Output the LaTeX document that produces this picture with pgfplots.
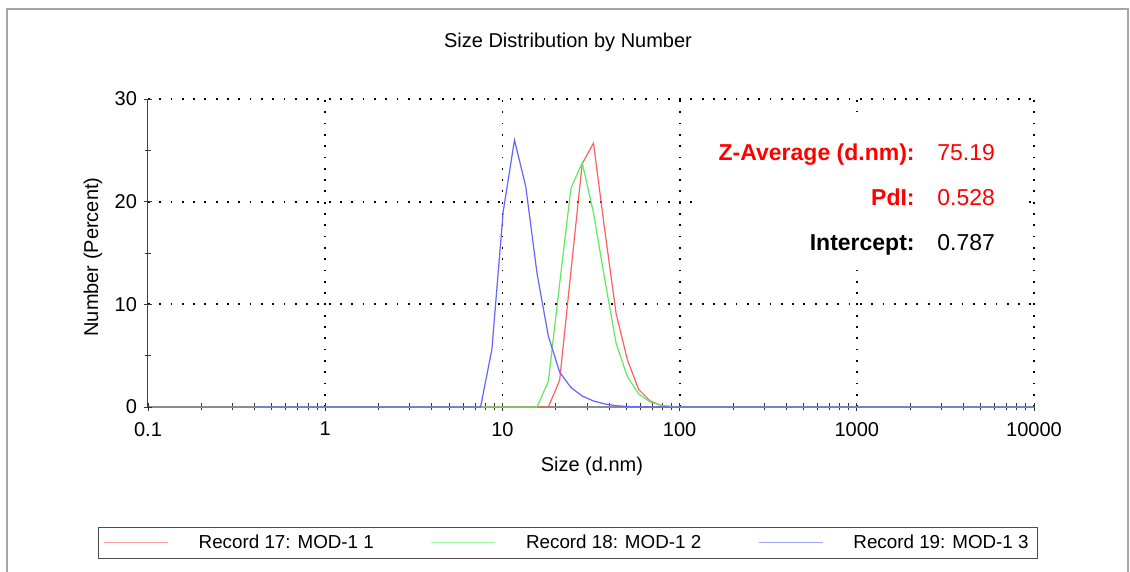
\documentclass[border=0pt]{standalone}
\usepackage{fontspec}
\setmainfont{Liberation Sans}
\usepackage{pgfplots}
\pgfplotsset{compat=1.18}
\usepackage{pgfplotstable}

\definecolor{cred}{RGB}{255,95,95}
\definecolor{cgreen}{RGB}{95,235,95}
\definecolor{cblue}{RGB}{100,100,255}

\pgfplotstableread{
x red green blue
0.4000 0 0 0
0.4632 0 0 0
0.5365 0 0 0
0.6213 0 0 0
0.7195 0 0 0
0.8332 0 0 0
0.9649 0 0 0
1.117 0 0 0
1.294 0 0 0
1.499 0 0 0
1.736 0 0 0
2.010 0 0 0
2.328 0 0 0
2.696 0 0 0
3.122 0 0 0
3.615 0 0 0
4.187 0 0 0
4.849 0 0 0
5.615 0 0 0
6.503 0 0 0
7.531 0 0 0
8.721 0 0 5.6
10.10 0 0 19.0
11.70 0 0 26.0
13.54 0 0 21.5
15.69 0 0 13.0
18.17 0 2.5 6.9
21.04 2.6 12.0 3.4
24.36 13.2 21.3 1.9
28.21 23.7 23.8 1.07
32.67 25.7 18.9 0.58
37.84 17.2 12.4 0.30
43.82 9.1 6.2 0.12
50.75 4.6 2.95 0.05
58.77 1.7 1.27 0
68.06 0.6 0.5 0
78.82 0.15 0.15 0
91.28 0.03 0.03 0
105.7 0 0 0
122.4 0 0 0
141.8 0 0 0
164.2 0 0 0
190.1 0 0 0
220.2 0 0 0
255.0 0 0 0
295.3 0 0 0
342.0 0 0 0
396.1 0 0 0
458.7 0 0 0
531.2 0 0 0
615.1 0 0 0
712.4 0 0 0
825.0 0 0 0
955.4 0 0 0
1106 0 0 0
1281 0 0 0
1484 0 0 0
1718 0 0 0
1990 0 0 0
2305 0 0 0
2669 0 0 0
3091 0 0 0
3580 0 0 0
4145 0 0 0
4801 0 0 0
5560 0 0 0
6439 0 0 0
7456 0 0 0
8635 0 0 0
10000 0 0 0
}\dsd

\begin{document}
\begin{tikzpicture}
\path[use as bounding box, fill=white] (-74pt,-82.5pt) rectangle (491pt,203.5pt);
\draw[black!35, line width=1pt] (-70.5pt,-83pt) -- (-70.5pt,199pt) -- (490pt,199pt) -- (490pt,-83pt);
\begin{axis}[
  at={(0pt,0pt)}, anchor=south west,
  width=443pt, height=154pt, scale only axis,
  xmode=log, xmin=0.1, xmax=10000, ymin=0, ymax=30,
  clip=false,
  axis x line*=bottom, axis y line*=left,
  x axis line style={black!45, line width=1pt},
  y axis line style={black!75, line width=0.5pt},
  xtick={1,10,100,1000,10000},
  xticklabels={1,10,100,1000,10000},
  extra x ticks={0.1}, extra x tick labels={0.1},
  extra x tick style={grid=none},
  minor xtick={0.2,0.3,0.4,0.5,0.6,0.7,0.8,0.9,2,3,4,5,6,7,8,9,20,30,40,50,60,70,80,90,200,300,400,500,600,700,800,900,2000,3000,4000,5000,6000,7000,8000,9000},
  ytick={10,20,30},
  extra y ticks={0}, extra y tick style={grid=none},
  minor ytick={5,15,25},
  tick align=center,
  major tick length=4pt, minor tick length=3.5pt,
  tick style={black!80, line width=0.4pt},
  xmajorgrids, ymajorgrids,
  major grid style={black, line width=0.9pt, dash pattern=on 0.9pt off 4.75pt},
  /pgf/number format/assume math mode=true,
  tick label style={font=\fontsize{10}{12}\selectfont},
  xticklabel style={yshift=-2pt},
  xlabel={Size (d.nm)},
  ylabel={Number (Percent)},
  label style={font=\fontsize{10}{12}\selectfont},
  xlabel style={at={(rel axis cs:0.501,-0.1916)}, anchor=center},
  ylabel style={at={(rel axis cs:-0.0621,0.487)}, anchor=center},
  legend columns=3,
  legend cell align=left,
  legend image code/.code={\draw[#1, line width=0.6pt, opacity=0.6] (0pt,0pt) -- (32pt,0pt);},
  legend style={at={(rel axis cs:-0.05643,-0.3896)}, anchor=north west,
    draw=black!70, line width=0.5pt, font=\fontsize{9.4}{11}\selectfont,
    inner xsep=2.5pt, inner ysep=1.5pt,
    /tikz/every odd column/.append style={column sep=13pt},
    /tikz/every even column/.append style={column sep=26.5pt}},
]
\fill[white] (rel axis cs:0.623,0.461) rectangle (rel axis cs:0.992,0.958);
\addplot[cred, line width=0.6pt] table[x=x, y=red] {\dsd};
\addlegendentry{Record 17: MOD-1 1}
\addplot[cgreen, line width=0.6pt] table[x=x, y=green] {\dsd};
\addlegendentry{Record 18: MOD-1 2}
\addplot[cblue, line width=0.6pt] table[x=x, y=blue] {\dsd};
\addlegendentry{Record 19: MOD-1 3}
\node[anchor=base east, inner sep=0pt, font=\fontsize{11.5}{13}\selectfont\bfseries, text=red] at (rel axis cs:0.8657,0.7987) {Z-Average (d.nm):};
\node[anchor=base west, inner sep=0pt, font=\fontsize{11.5}{13}\selectfont, text=red] at (rel axis cs:0.8905,0.7987) {75.19};
\node[anchor=base east, inner sep=0pt, font=\fontsize{11.5}{13}\selectfont\bfseries, text=red] at (rel axis cs:0.8657,0.6558) {PdI:};
\node[anchor=base west, inner sep=0pt, font=\fontsize{11.5}{13}\selectfont, text=red] at (rel axis cs:0.8905,0.6558) {0.528};
\node[anchor=base east, inner sep=0pt, font=\fontsize{11.5}{13}\selectfont\bfseries, text=black] at (rel axis cs:0.8657,0.5097) {Intercept:};
\node[anchor=base west, inner sep=0pt, font=\fontsize{11.5}{13}\selectfont, text=black] at (rel axis cs:0.8905,0.5097) {0.787};
\end{axis}
\node[font=\fontsize{10}{12}\selectfont] at (210pt,182.5pt) {Size Distribution by Number};
\end{tikzpicture}
\end{document}
